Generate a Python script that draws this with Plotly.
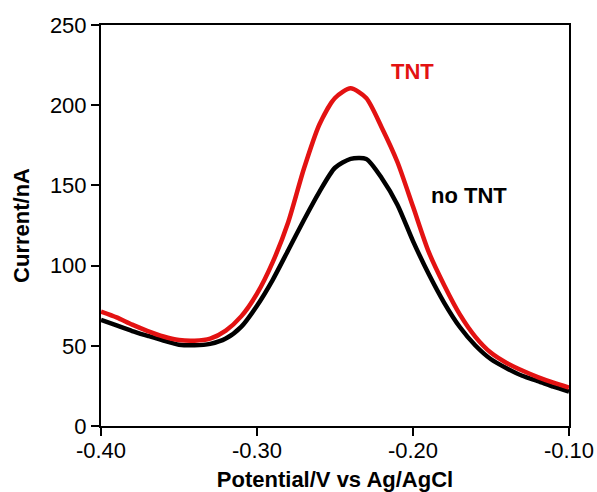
import plotly.graph_objects as go

potential = [-0.40, -0.39, -0.38, -0.37, -0.36, -0.35, -0.34, -0.33, -0.32, -0.31,
             -0.30, -0.29, -0.28, -0.27, -0.26, -0.25, -0.24, -0.23, -0.22, -0.21,
             -0.20, -0.19, -0.18, -0.17, -0.16, -0.15, -0.14, -0.13, -0.12, -0.11, -0.10]

current_tnt = [71.3, 67.7, 63.2, 59.2, 55.8, 53.6, 53.2, 54.5, 59.5, 68.5,
               82.5, 102.0, 127.0, 160.2, 188.0, 204.5, 210.5, 204.5, 186.0, 164.6,
               136.8, 108.7, 87.8, 69.6, 55.6, 45.6, 39.3, 34.6, 30.5, 27.0, 24.0]

current_no_tnt = [66.1, 62.7, 59.2, 56.2, 53.3, 50.7, 50.3, 51.2, 54.5, 62.0,
                  75.0, 91.0, 109.6, 128.3, 146.0, 161.0, 166.5, 166.5, 154.5, 138.0,
                  115.3, 94.9, 76.8, 61.7, 50.2, 41.6, 36.0, 31.3, 28.0, 24.5, 21.4]

x_tickvals = [-0.40, -0.30, -0.20, -0.10]
x_ticktext = ["-0.40", "-0.30", "-0.20", "-0.10"]
y_tickvals = [0, 50, 100, 150, 200, 250]
y_ticktext = ["0", "50", "100", "150", "200", "250"]

FONT = "Liberation Sans, Arial, sans-serif"
RED = "#e31212"

fig = go.Figure()
fig.add_trace(go.Scatter(x=potential, y=current_no_tnt, mode="lines",
                         line=dict(color="#000000", width=4.5, shape="spline", smoothing=0.7),
                         name="no TNT"))
fig.add_trace(go.Scatter(x=potential, y=current_tnt, mode="lines",
                         line=dict(color=RED, width=4.5, shape="spline", smoothing=0.7),
                         name="TNT"))

fig.add_annotation(x=-0.2006, y=221, text="<b>TNT</b>", showarrow=False,
                   font=dict(family=FONT, size=22, color=RED), xanchor="center", yanchor="middle")
fig.add_annotation(x=-0.1895, y=144, text="<b>no TNT</b>", showarrow=False,
                   font=dict(family=FONT, size=22, color="#000000"), xanchor="left", yanchor="middle")

fig.update_layout(
    width=597, height=492,
    margin=dict(l=101, r=28, t=25, b=66),
    paper_bgcolor="white", plot_bgcolor="white",
    showlegend=False,
    font=dict(family=FONT, color="black"),
    xaxis=dict(range=[-0.40, -0.10], tickvals=x_tickvals, ticktext=x_ticktext,
               automargin=False,
               ticks="outside", ticklen=8, tickwidth=2, tickcolor="black",
               ticklabelstandoff=-4,
               showline=True, linewidth=2, linecolor="black", mirror=True,
               showgrid=False, zeroline=False,
               tickfont=dict(family=FONT, size=22, color="black"),
               title=dict(text="<b>Potential/V vs Ag/AgCl</b>", standoff=17,
                          font=dict(family=FONT, size=22, color="black"))),
    yaxis=dict(range=[0, 250], tickvals=y_tickvals, ticktext=y_ticktext,
               automargin=False,
               ticks="outside", ticklen=8, tickwidth=2, tickcolor="black",
               showline=True, linewidth=2, linecolor="black", mirror=True,
               showgrid=False, zeroline=False,
               tickfont=dict(family=FONT, size=22, color="black"),
               title=dict(text="<b>Current/nA</b>", standoff=14,
                          font=dict(family=FONT, size=22, color="black"))),
)

fig.write_html("out.html", config={"displayModeBar": False},
               post_script="document.body.style.margin='0';document.body.style.overflow='hidden';")
